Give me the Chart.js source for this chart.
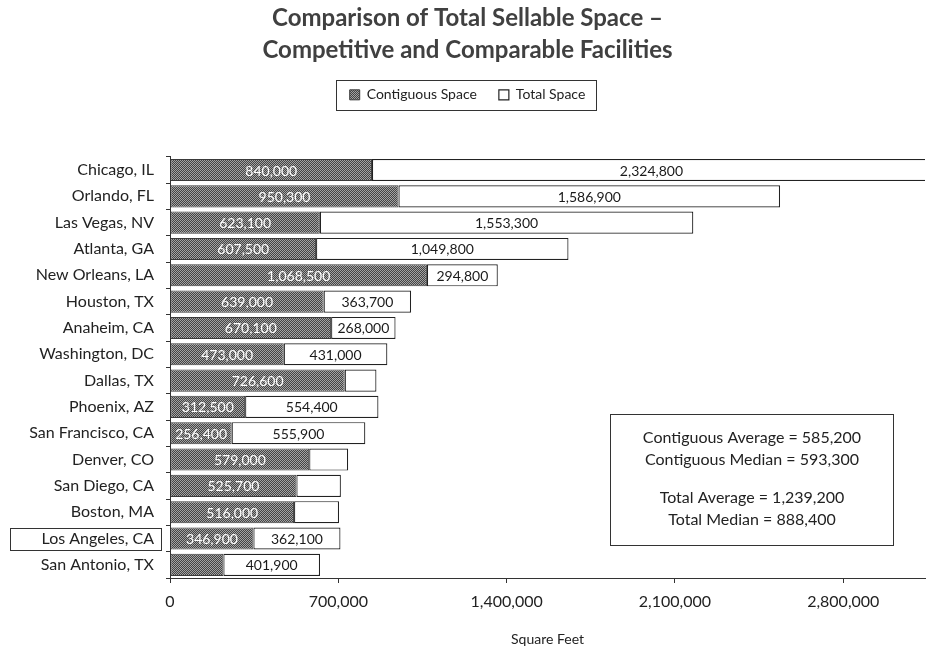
<!DOCTYPE html>
<html>
<head>
<meta charset="utf-8">
<title>Total Sellable Space</title>
<script src="https://cdn.jsdelivr.net/npm/chart.js@4.4.1/dist/chart.umd.min.js"></script>
<style>
    html, body { margin: 0; padding: 0; background: #fff; }
    #wrap { width: 926px; height: 653px; position: relative; }
</style>
</head>
<body>
<div id="wrap"><canvas id="chart"></canvas></div>
<script>
const cities = [
    "Chicago, IL", "Orlando, FL", "Las Vegas, NV", "Atlanta, GA",
    "New Orleans, LA", "Houston, TX", "Anaheim, CA", "Washington, DC",
    "Dallas, TX", "Phoenix, AZ", "San Francisco, CA", "Denver, CO",
    "San Diego, CA", "Boston, MA", "Los Angeles, CA", "San Antonio, TX"
];

const contiguousSpace = [
    840000, 950300, 623100, 607500, 1068500, 639000, 670100, 473000,
    726600, 312500, 256400, 579000, 525700, 516000, 346900, 222000
];

// remainder of the total, stacked after the contiguous part
const totalSpace = [
    2324800, 1586900, 1553300, 1049800, 294800, 363700, 268000, 431000,
    132000, 554400, 555900, 162000, 185000, 187000, 362100, 401900
];

const noContiguousLabel = ["San Antonio, TX"];
const noTotalLabel = ["Dallas, TX", "Denver, CO", "San Diego, CA", "Boston, MA"];
const highlighted = "Los Angeles, CA";

const xTicks = [0, 700000, 1400000, 2100000, 2800000];
const xMax = 3140000;

const statLines = [
    "Contiguous Average = 585,200",
    "Contiguous Median = 593,300",
    "",
    "Total Average = 1,239,200",
    "Total Median = 888,400"
];

const FONT = "Lato, 'Open Sans', sans-serif";
const fmt = v => v.toLocaleString("en-US");

function speckle() {
    const c = document.createElement("canvas");
    c.width = 2;
    c.height = 2;
    const g = c.getContext("2d");
    g.fillStyle = "#444444";
    g.fillRect(0, 0, 2, 2);
    g.fillStyle = "#a3a3a3";
    g.fillRect(0, 0, 1, 1);
    g.fillRect(1, 1, 1, 1);
    return g.createPattern(c, "repeat");
}

const barLabels = {
    id: "barLabels",
    afterDatasetsDraw(chart) {
        const ctx = chart.ctx;
        ctx.save();
        ctx.font = "14px " + FONT;
        ctx.textAlign = "center";
        ctx.textBaseline = "middle";
        chart.data.datasets.forEach((ds, di) => {
            const skip = di === 0 ? noContiguousLabel : noTotalLabel;
            ctx.fillStyle = di === 0 ? "#ffffff" : "#1a1a1a";
            chart.getDatasetMeta(di).data.forEach((bar, i) => {
                if (skip.includes(cities[i])) return;
                const { x, y, base } = bar.getProps(["x", "y", "base"], true);
                ctx.fillText(fmt(ds.data[i]), (x + base) / 2, y + 1);
            });
        });
        ctx.restore();
    }
};

const extras = {
    id: "extras",
    afterDraw(chart) {
        const ctx = chart.ctx;
        const area = chart.chartArea;
        const yScale = chart.scales.y;
        ctx.save();
        ctx.strokeStyle = "#333";
        ctx.lineWidth = 1;

        // frame around the legend
        const boxes = chart.legend.legendHitBoxes;
        if (boxes.length) {
            const left = Math.min(...boxes.map(b => b.left));
            const right = Math.max(...boxes.map(b => b.left + b.width));
            const top = Math.min(...boxes.map(b => b.top));
            const h = boxes[0].height;
            ctx.strokeRect(Math.round(left - 14) + 0.5, Math.round(top - 8) + 0.5,
                Math.round(right - left + 24), Math.round(h + 16));
        }

        // outline on the highlighted city
        const yc = yScale.getPixelForValue(cities.indexOf(highlighted));
        ctx.strokeRect(10.5, Math.round(yc - 11) + 0.5, Math.round(area.left - 19), 22);

        // summary box
        const bw = 283, bh = 131;
        const bx = Math.round(area.right - 32 - bw) + 0.5;
        const by = Math.round(area.bottom - 33 - bh) + 0.5;
        ctx.fillStyle = "#fff";
        ctx.fillRect(bx, by, bw, bh);
        ctx.strokeRect(bx, by, bw, bh);
        ctx.fillStyle = "#222";
        ctx.font = "16px " + FONT;
        ctx.textAlign = "center";
        ctx.textBaseline = "middle";
        let ty = by + 23;
        statLines.forEach(t => {
            if (t) {
                ctx.fillText(t, bx + bw / 2, ty);
                ty += 22;
            } else {
                ty += 16;
            }
        });
        ctx.restore();
    }
};

const ctx = document.getElementById("chart");

new Chart(ctx, {
    type: "bar",
    data: {
        labels: cities,
        datasets: [
            {
                label: "Contiguous Space",
                data: contiguousSpace,
                backgroundColor: speckle(),
                borderColor: "#3a3a3a",
                borderWidth: 1,
                borderSkipped: false
            },
            {
                label: "Total Space",
                data: totalSpace,
                backgroundColor: "#ffffff",
                borderColor: "#222",
                borderWidth: 1.2,
                borderSkipped: false
            }
        ]
    },
    options: {
        indexAxis: "y",
        responsive: true,
        maintainAspectRatio: false,
        animation: false,
        datasets: {
            bar: { categoryPercentage: 1, barPercentage: 0.84 }
        },
        layout: {
            padding: { left: 10, right: 1, top: 0, bottom: 5 }
        },
        plugins: {
            title: {
                display: true,
                text: [
                    "Comparison of Total Sellable Space \u2013",
                    "Competitive and Comparable Facilities"
                ],
                color: "#404040",
                font: { family: FONT, size: 24, weight: "bold", lineHeight: 1.33 },
                padding: { top: 2, bottom: 0 }
            },
            legend: {
                display: true,
                weight: 1000,
                labels: {
                    color: "#222",
                    font: { family: FONT, size: 14 },
                    boxWidth: 10,
                    boxHeight: 10,
                    padding: 22
                }
            },
            // empty block that keeps a gap between legend and bars
            subtitle: {
                display: true,
                text: "",
                weight: 500,
                font: { size: 10, lineHeight: 1 },
                padding: { top: 35, bottom: 0 }
            },
            tooltip: { enabled: false }
        },
        scales: {
            x: {
                stacked: true,
                min: 0,
                max: xMax,
                afterBuildTicks: scale => {
                    scale.ticks = xTicks.map(v => ({ value: v }));
                },
                ticks: {
                    color: "#222",
                    font: { family: FONT, size: 16 },
                    padding: 9,
                    callback: v => fmt(v)
                },
                grid: {
                    drawOnChartArea: false,
                    drawTicks: true,
                    tickLength: 5,
                    tickColor: "#333"
                },
                border: { color: "#333" },
                title: {
                    display: true,
                    text: "Square Feet",
                    color: "#222",
                    font: { family: FONT, size: 14 },
                    padding: { top: 11, bottom: 0 }
                }
            },
            y: {
                stacked: true,
                afterFit: scale => { scale.width = 160; },
                ticks: {
                    color: "#222",
                    font: { family: FONT, size: 16 },
                    padding: 12
                },
                grid: {
                    drawOnChartArea: false,
                    drawTicks: true,
                    tickLength: 4,
                    tickColor: "#333"
                },
                border: { color: "#333" }
            }
        }
    },
    plugins: [barLabels, extras]
});
</script>
</body>
</html>
